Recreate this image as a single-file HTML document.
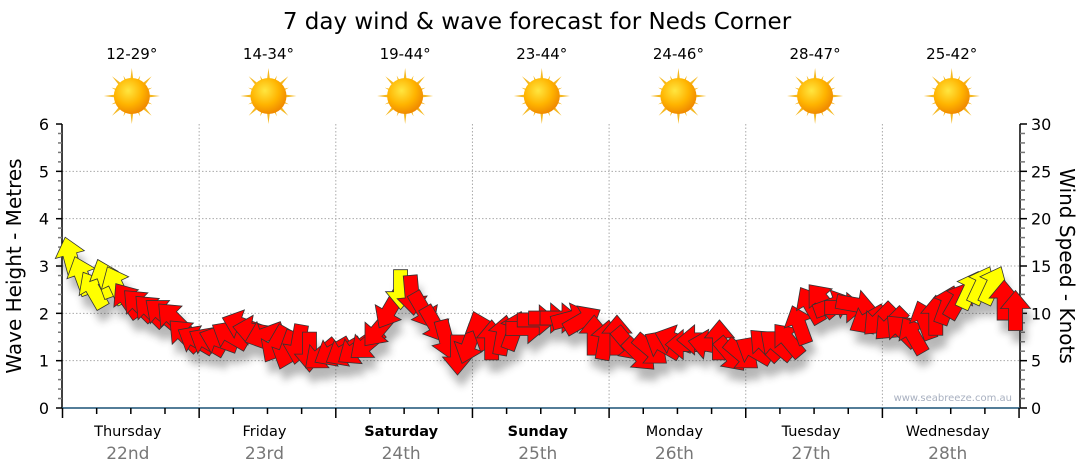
<!DOCTYPE html>
<html><head><meta charset="utf-8">
<style>
html,body{margin:0;padding:0;background:#fff;}
svg{display:block;font-family:"DejaVu Sans","Liberation Sans",sans-serif;}
</style></head>
<body>
<svg id="chart" width="1080" height="475" viewBox="0 0 1080 475" xmlns="http://www.w3.org/2000/svg">
<defs>
<radialGradient id="sunG" cx="40%" cy="35%" r="65%">
<stop offset="0" stop-color="#ffe640"/><stop offset="0.6" stop-color="#ffb400"/><stop offset="1" stop-color="#f08a00"/>
</radialGradient>
<filter id="shd" x="-50%" y="-50%" width="200%" height="200%"><feGaussianBlur stdDeviation="4"/></filter>
</defs>
<text x="537" y="29" text-anchor="middle" font-size="23" fill="#000">7 day wind &amp; wave forecast for Neds Corner</text>
<g id="grid"></g>
<g id="axes"></g>
<g id="shadows" filter="url(#shd)" opacity="0.35"></g>
<g id="marks"></g>
<g id="suns"></g>
<text x="1012" y="401" text-anchor="end" font-size="10" fill="#a8b0c0">www.seabreeze.com.au</text>
<text transform="translate(21,266) rotate(-90)" text-anchor="middle" font-size="20" fill="#000">Wave Height - Metres</text>
<text transform="translate(1060,266) rotate(90)" text-anchor="middle" font-size="20" fill="#000">Wind Speed - Knots</text>
</svg>
<script>
const days=["Thursday","Friday","Saturday","Sunday","Monday","Tuesday","Wednesday"];
const dates=["22nd","23rd","24th","25th","26th","27th","28th"];
const temps=["12-29°","14-34°","19-44°","23-44°","24-46°","28-47°","25-42°"];
const waveTicks=[0,1,2,3,4,5,6];
const windTicks=[0,5,10,15,20,25,30];
// wind speed (knots) every 2 hours, starting at ~00:30 Thursday
const windSpeed=[16,14,12.5,13.7,13,11.4,10.9,10.3,10,9.5,7.7,7.2,
7,7.2,7.7,8.8,8.2,7.7,6.7,6.1,6.7,5.9,5.6,5.9,
5.9,6.1,6.7,8.2,10.3,12.5,11.9,10.3,8.8,7.2,5.6,6.7,
8.2,7.2,7.7,8.2,8.4,9.3,9.5,9.5,9.5,9.3,7.7,7.2,
7.7,6.7,5.6,6.1,6.7,7.2,6.7,7.2,6.7,7.2,5.6,5.6,
6.1,6.7,6.7,7.2,8.8,10.9,11.4,10.9,10.6,10.9,9.3,9.3,
8.8,8.2,7.7,9.3,9.8,10.9,11.4,12.5,13,13,11.4,10.3];
// arrow heading (degrees, 0 = pointing up, clockwise)
const windDir=[-15,-20,-30,-20,-25,-35,-45,-45,-50,-45,-45,-60,
-60,-70,-60,-70,-80,-110,-150,-160,-170,180,-130,-120,
-120,-125,-130,-140,-150,180,175,150,150,165,180,-160,
-20,0,10,20,90,90,90,90,75,60,0,10,
0,140,135,130,-60,-70,-90,-90,-80,0,140,130,
-60,-45,-50,-40,-20,-30,-40,70,90,100,-120,-135,
-135,-45,-30,-20,0,20,30,25,25,25,0,0];
const X0=62.5,DAYW=136.65,YB=408,PXM=47.33,PXK=284/30;
const xT=h=>X0+h*DAYW/24;
const yW=m=>YB-m*PXM;
const yK=k=>YB-k*PXK;
const NS="http://www.w3.org/2000/svg";
function mk(tag,attrs,parent,txt){const e=document.createElementNS(NS,tag);for(const k in attrs)e.setAttribute(k,attrs[k]);if(txt!==undefined)e.textContent=txt;parent.appendChild(e);return e;}
const grid=document.getElementById('grid'),axes=document.getElementById('axes'),marks=document.getElementById('marks'),shadows=document.getElementById('shadows'),suns=document.getElementById('suns');
for(let m=1;m<=5;m++){const l=mk('line',{x1:62,x2:1020,y1:yW(m),y2:yW(m),stroke:'#aaa','stroke-dasharray':'1.5,2'},grid);

}
for(let d=1;d<7;d++){const l=mk('line',{x1:xT(d*24),x2:xT(d*24),y1:124,y2:408,stroke:'#aaa','stroke-dasharray':'1.5,2'},grid);

}
mk('line',{x1:62,x2:62,y1:124,y2:408,stroke:'#000','stroke-width':1.5},axes);
mk('line',{x1:1020,x2:1020,y1:124,y2:408,stroke:'#000','stroke-width':1.5},axes);
mk('line',{x1:62,x2:1020,y1:408,y2:408,stroke:'#1a5276','stroke-width':1.5},axes);
for(let i=0;i<=30;i++){const m=i*0.2,y=yW(m);mk('line',{x1:62,x2:i%5==0?56:58,y1:y,y2:y,stroke:i%5==0?'#000':'#777','stroke-width':1.5},axes);}
waveTicks.forEach(m=>{const t=mk('text',{x:49,y:yW(m)+6,'text-anchor':'end','font-size':16,fill:'#000'},axes,m);

});
for(let k=0;k<=30;k++){const y=yK(k);mk('line',{x1:1020,x2:k%5==0?1027:1025,y1:y,y2:y,stroke:k%5==0?'#000':'#777','stroke-width':1.5},axes);}
windTicks.forEach(k=>{const t=mk('text',{x:1031,y:yK(k)+6,'font-size':16,fill:'#000'},axes,k);

});
for(let q=0;q<=28;q++){const x=xT(q*6);mk('line',{x1:x,x2:x,y1:408,y2:q%4==0?418:414,stroke:'#000','stroke-width':1.5},axes);}
days.forEach((d,i)=>{const cx=xT(i*24+12)-3;
const bold=(i==2||i==3);
const t=mk('text',{x:cx,y:436,'text-anchor':'middle','font-size':14.5,fill:'#000','font-weight':bold?'bold':'normal'},axes,d);


const t2=mk('text',{x:cx,y:459,'text-anchor':'middle','font-size':17,fill:'#777'},axes,dates[i]);


const tt=mk('text',{x:cx+4,y:59,'text-anchor':'middle','font-size':15,fill:'#000'},suns,temps[i]);


const g=mk('g',{transform:`translate(${cx+4},96)`},suns);


for(let r=0;r<16;r++){const a=r*22.5,L=r%2?22:28;mk('polygon',{points:`-3.5,0 3.5,0 0,-${L}`,fill:'#f5b820',transform:`rotate(${a})`},g);}
mk('circle',{r:18,fill:'url(#sunG)'},g);
});
const ARROW="-7,20 7,20 7,-2 15,-2 0,-20 -15,-2 -7,-2";
windSpeed.forEach((k,i)=>{const h=0.5+i*2,x=xT(h)+5,y=yK(k);
mk('polygon',{points:ARROW,fill:'#333',transform:`translate(${x+4},${y+12}) rotate(${windDir[i]})`},shadows);
const p=mk('polygon',{points:ARROW,fill:k>=12?'#ffff00':'#ff0000',stroke:'#333','stroke-width':0.8,transform:`translate(${x},${y}) rotate(${windDir[i]})`},marks);


});
</script>
</body></html>
